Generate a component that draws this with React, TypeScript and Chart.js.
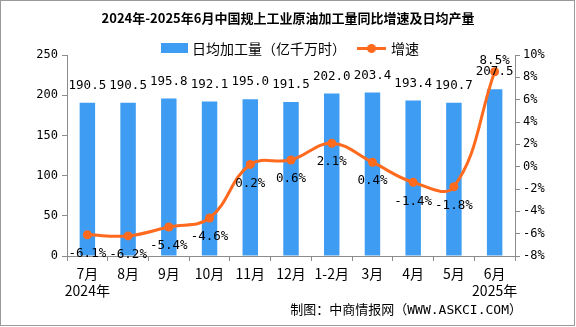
import React, { useEffect, useRef } from 'react';
import { Chart, registerables } from 'chart.js';

Chart.register(...registerables);

const titleText = '2024年-2025年6月中国规上工业原油加工量同比增速及日均产量';
const barSeriesName = '日均加工量（亿千万时）';
const lineSeriesName = '增速';
const footerText = '制图：中商情报网（WWW.ASKCI.COM）';

const months = ['7月', '8月', '9月', '10月', '11月', '12月', '1-2月', '3月', '4月', '5月', '6月'];
const yearNotes = ['2024年', '', '', '', '', '', '', '', '', '', '2025年'];
const dailyOutput = [190.5, 190.5, 195.8, 192.1, 195.0, 191.5, 202.0, 203.4, 193.4, 190.7, 207.5];
const growthRate = [-6.1, -6.2, -5.4, -4.6, 0.2, 0.6, 2.1, 0.4, -1.4, -1.8, 8.5];

const leftMin = 0;
const leftMax = 250;
const leftStep = 50;
const rightMin = -8;
const rightMax = 10;
const rightStep = 2;

const BLUE = '#3E9DF2';
const ORANGE = '#FF6A1F';
const AXIS = '#8c8c8c';
const CJK = "'Noto Sans CJK SC', sans-serif";
const MONO = "'DejaVu Sans Mono', 'Noto Sans CJK SC', monospace";

const labels = months.map((m, i) => (yearNotes[i] ? [m, yearNotes[i]] : m));

const decorPlugin = {
  id: 'decor',
  afterDatasetsDraw(chart: any) {
    const ctx = chart.ctx;
    ctx.save();
    ctx.fillStyle = '#000';
    ctx.textAlign = 'center';
    ctx.textBaseline = 'middle';
    ctx.font = `12.5px ${MONO}`;
    const barMeta = chart.getDatasetMeta(1);
    barMeta.data.forEach((el: any, i: number) => {
      ctx.fillText(dailyOutput[i].toFixed(1), el.x, el.y - 17);
    });
    const lineMeta = chart.getDatasetMeta(0);
    const maxRate = Math.max(...growthRate);
    lineMeta.data.forEach((el: any, i: number) => {
      const v = growthRate[i];
      const y = v === maxRate ? el.y - 11 : el.y + 19;
      ctx.fillText(`${v.toFixed(1)}%`, el.x, y);
    });
    ctx.restore();
  },
  afterDraw(chart: any) {
    const ctx = chart.ctx;
    ctx.save();
    // border
    ctx.strokeStyle = '#9a9a9a';
    ctx.lineWidth = 1;
    ctx.strokeRect(0.5, 0.5, 574, 325);
    // title
    ctx.fillStyle = '#000';
    ctx.textBaseline = 'middle';
    ctx.textAlign = 'center';
    ctx.font = `bold 13px ${CJK}`;
    ctx.fillText(titleText, 288, 18);
    // legend
    ctx.fillStyle = BLUE;
    ctx.fillRect(161, 43, 27, 10);
    ctx.fillStyle = '#000';
    ctx.textAlign = 'left';
    ctx.font = `14px ${CJK}`;
    ctx.fillText(barSeriesName, 192, 48.5);
    ctx.strokeStyle = ORANGE;
    ctx.lineWidth = 3;
    ctx.beginPath();
    ctx.moveTo(357, 48.5);
    ctx.lineTo(386, 48.5);
    ctx.stroke();
    ctx.fillStyle = ORANGE;
    ctx.beginPath();
    ctx.arc(371.5, 48.5, 4.5, 0, Math.PI * 2);
    ctx.fill();
    ctx.fillStyle = '#000';
    ctx.fillText(lineSeriesName, 391, 48.5);
    // footer
    ctx.textAlign = 'right';
    ctx.font = `13px ${MONO}`;
    ctx.fillText(footerText, 522, 311);
    ctx.restore();
  },
};

export default function App() {
  const ref = useRef<HTMLCanvasElement>(null);
  useEffect(() => {
    if (!ref.current) return;
    const chart = new Chart(ref.current, {
      type: 'bar',
      data: {
        labels,
        datasets: [
          {
            type: 'line',
            label: lineSeriesName,
            data: growthRate,
            yAxisID: 'y1',
            borderColor: ORANGE,
            backgroundColor: ORANGE,
            borderWidth: 3,
            pointRadius: 4.5,
            pointBackgroundColor: ORANGE,
            pointBorderColor: ORANGE,
            pointBorderWidth: 0,
            tension: 0.4,
            order: 1,
          } as any,
          {
            type: 'bar',
            label: barSeriesName,
            data: dailyOutput,
            yAxisID: 'y',
            backgroundColor: BLUE,
            barPercentage: 0.38,
            categoryPercentage: 1,
            order: 2,
          },
        ],
      },
      options: {
        responsive: false,
        animation: false,
        layout: { padding: { top: 55, left: 0, right: 0, bottom: 0 } },
        plugins: {
          legend: { display: false },
          title: { display: false },
          tooltip: { enabled: false },
        },
        scales: {
          x: {
            grid: { display: true, drawOnChartArea: false, drawTicks: true, tickLength: 5, color: AXIS, offset: true },
            border: { color: AXIS },
            ticks: { color: '#000', font: { family: CJK, size: 14 }, padding: 4, maxRotation: 0, autoSkip: false },
            afterFit: (s: any) => { s.height = 71; },
          },
          y: {
            position: 'left',
            min: leftMin,
            max: leftMax,
            ticks: { stepSize: leftStep, color: '#000', font: { family: MONO, size: 12 }, padding: 4 },
            grid: { drawOnChartArea: false, tickLength: 5, color: AXIS },
            border: { color: AXIS },
            afterFit: (s: any) => { s.width = 67; },
          },
          y1: {
            position: 'right',
            min: rightMin,
            max: rightMax,
            ticks: { stepSize: rightStep, color: '#000', font: { family: MONO, size: 12 }, padding: 3, callback: (v: any) => `${v}%` },
            grid: { drawOnChartArea: false, tickLength: 5, color: AXIS },
            border: { color: AXIS },
            afterFit: (s: any) => { s.width = 61; },
          },
        },
      } as any,
      plugins: [decorPlugin],
    });
    return () => chart.destroy();
  }, []);
  return (
    <div style={{ position: 'absolute', left: 0, top: 0, width: 576, height: 327, background: '#fff' }}>
      <canvas ref={ref} width={576} height={327} />
    </div>
  );
}
